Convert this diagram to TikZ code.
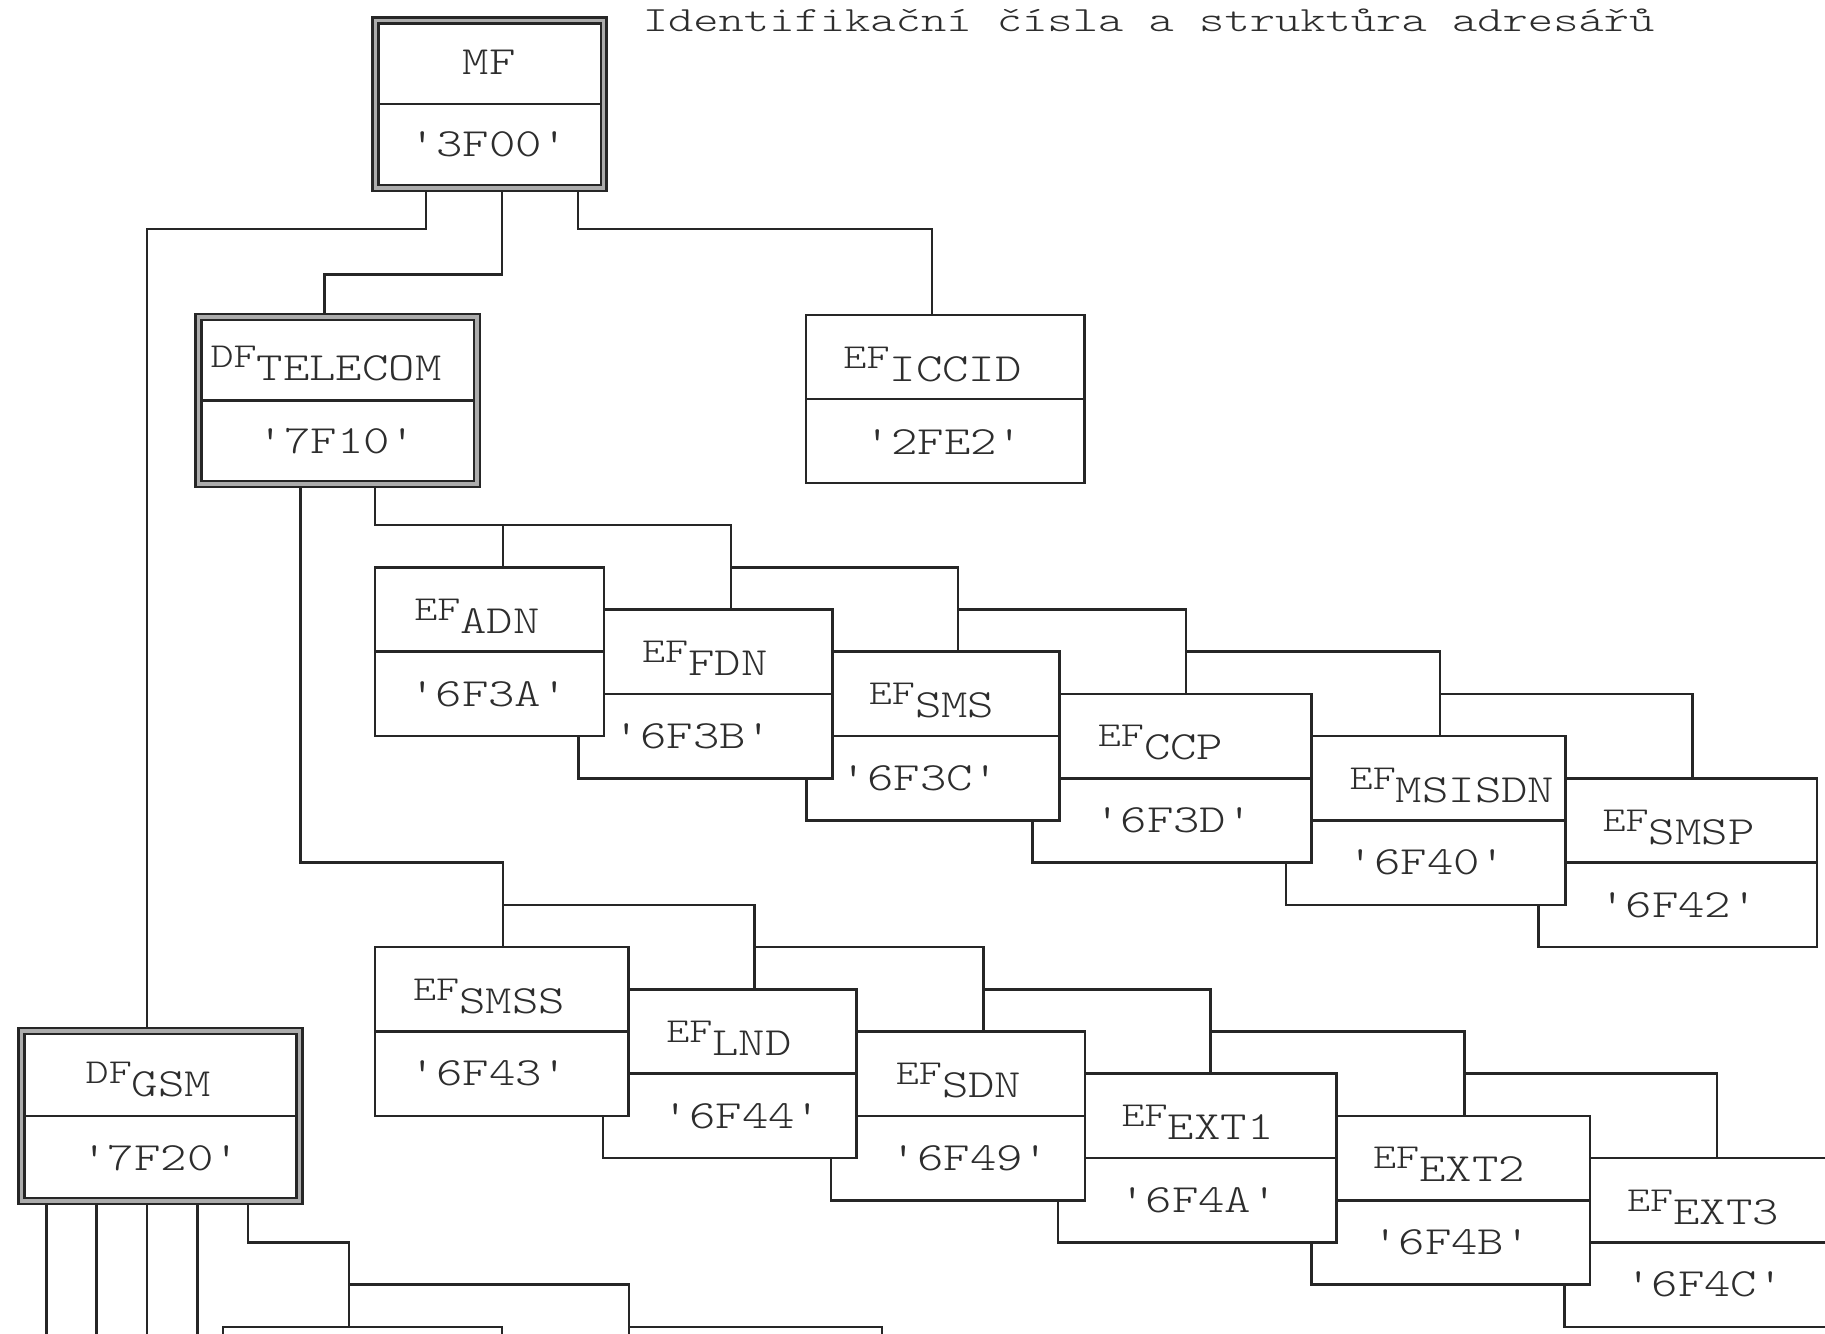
\documentclass[tikz,border=0pt]{standalone}
\usepackage{fontspec}
\newfontfamily\boxfont{lmmonolt10-regular.otf}[FakeStretch=1.257]
\newfontfamily\titlefont{lmmonolt10-regular.otf}[FakeStretch=1.357]
\definecolor{linec}{RGB}{38,38,38}
\definecolor{textc}{RGB}{45,45,45}
% file name with a lowered part after a smaller prefix
\newcommand\efl[2]{{\fontsize{35}{40}\selectfont #1}\raisebox{-13pt}{#2}}
% top edge of the i-th row of the staircase
\newcommand\Ty[1]{567.3+42.2*(#1)}
\tikzset{
  conn/.style={draw=linec, line width=2.6pt},
  efbox/.style={draw=linec, line width=2.6pt, fill=white, inner sep=0pt, outer sep=0pt,
    minimum height=168.8pt,
    path picture={\draw[linec, line width=2.6pt] (path picture bounding box.west) -- (path picture bounding box.east);}},
  dfbox/.style={draw=linec, line width=2.4pt, double=gray!65, double distance=3.4pt,
    fill=white, inner sep=0pt, outer sep=0pt},
  lbl/.style={inner sep=0pt, anchor=base, text=textc, font=\boxfont\fontsize{40}{44}\selectfont},
}
\newcommand\efnode[4]{\node[efbox, minimum width={#3-#2}] (#1) at ({(#2+#3)/2},{\Ty{#4}+84.4}) {};}
\newcommand\eftext[6]{%
  \node[lbl] (#1-n) at (#3,{\Ty{#2}+52.9}) {\efl{EF}{#4}};%
  \node[lbl] (#1-c) at (#5,{\Ty{#2}+138.8}) {#6};}

\begin{document}
\begin{tikzpicture}[x=1pt,y=-1pt]
\fill[white] (0,0) rectangle (1825,1333);
\useasboundingbox (0,0) rectangle (1825,1333);
\clip (0,0) rectangle (1825,1333);

% ---------- boxes (lower rows first, so earlier files lie on top) ----------
\node[dfbox, minimum width=228.2pt, minimum height=167.3pt] (mf) at (489.6,104.15) {};
\node[dfbox, minimum width=278.5pt, minimum height=167pt] (tel) at (337.75,400.5) {};
\node[dfbox, minimum width=278pt, minimum height=170pt] (gsm) at (160.5,1116) {};
\node[efbox, minimum width=278.5pt, minimum height=168pt] (iccid) at (945.25,399) {};

\efnode{smsp}{1538.7}{1816.8}{5}
\efnode{msisdn}{1286.1}{1565.4}{4}
\efnode{ccp}{1032.4}{1311.7}{3}
\efnode{sms}{806.6}{1059.2}{2}
\efnode{fdn}{578.5}{832.2}{1}
\efnode{adn}{374.8}{604.1}{0}

\efnode{ext3}{1564.3}{1842}{14}
\efnode{ext2}{1311.7}{1589.9}{13}
\efnode{ext1}{1058.0}{1336.2}{12}
\efnode{sdn}{831.0}{1084.8}{11}
\efnode{lnd}{602.9}{856.6}{10}
\efnode{smss}{374.8}{628.5}{9}

\efnode{boxa}{223}{502}{18}
\efnode{boxb}{629}{882}{18}

% ---------- connectors ----------
\draw[conn] (mf.south -| 426,0) |- (147,229) -- (gsm.north -| 147,0);
\draw[conn] (mf.south -| 502,0) |- (324.7,274.7) -- (tel.north -| 324.7,0);
\draw[conn] (mf.south -| 578,0) |- (932,229) -- (iccid.north -| 932,0);

% DF TELECOM, first branch
\draw[conn] (tel.south -| 374.8,0) -- (374.8,{\Ty{-1}}) -| (fdn.north -| 730.9,0);
\draw[conn] (502.8,{\Ty{-1}}) -- (adn.north -| 502.8,0);
\draw[conn] (730.9,{\Ty{0}}) -| (sms.north -| 957.9,0);
\draw[conn] (957.9,{\Ty{1}}) -| (ccp.north -| 1186,0);
\draw[conn] (1186,{\Ty{2}}) -| (msisdn.north -| 1439.8,0);
\draw[conn] (1439.8,{\Ty{3}}) -| (smsp.north -| 1692.3,0);

% DF TELECOM, second branch
\draw[conn] (tel.south -| 300.3,0) -- (300.3,{\Ty{7}}) -| (smss.north -| 502.8,0);
\draw[conn] (502.8,{\Ty{8}}) -| (lnd.north -| 754.2,0);
\draw[conn] (754.2,{\Ty{9}}) -| (sdn.north -| 983.5,0);
\draw[conn] (983.5,{\Ty{10}}) -| (ext1.north -| 1210.5,0);
\draw[conn] (1210.5,{\Ty{11}}) -| (ext2.north -| 1464.2,0);
\draw[conn] (1464.2,{\Ty{12}}) -| (ext3.north -| 1716.8,0);

% DF GSM
\foreach \xx in {46.4,96.6,147,197.5}
  \draw[conn] (gsm.south -| \xx,0) -- (\xx,1345);
\draw[conn] (gsm.south -| 247.9,0) -- (247.9,{\Ty{16}}) -| (boxa.north -| 349,0);
\draw[conn] (349,{\Ty{17}}) -| (boxb.north west);

% redraw the framed boxes over the connector ends
\node[dfbox, minimum width=228.2pt, minimum height=167.3pt] at (mf) {};
\node[dfbox, minimum width=278.5pt, minimum height=167pt] at (tel) {};
\node[dfbox, minimum width=278pt, minimum height=170pt] at (gsm) {};
\draw[conn] ([xshift=4pt]mf.west) -- ([xshift=-4pt]mf.east);
\draw[conn] ([xshift=4pt]tel.west) -- ([xshift=-4pt]tel.east);
\draw[conn] ([xshift=4pt]gsm.west) -- ([xshift=-4pt]gsm.east);

% ---------- texts ----------
\node[anchor=base west, inner sep=0pt, text=textc, font=\titlefont\fontsize{35.5}{40}\selectfont]
  (title) at (642.6,31.7) {Identifikační čísla a struktůra adresářů};

\node[lbl] (mf-n) at (489,74.2) {MF};
\node[lbl] (mf-c) at (489,156.7) {'3F00'};
\node[lbl] (tel-n) at (326,367.7) {\efl{DF}{TELECOM}};
\node[lbl] (tel-c) at (337,453.2) {'7F10'};
\node[lbl] (iccid-n) at (932.5,368.2) {\efl{EF}{ICCID}};
\node[lbl] (iccid-c) at (944,454.7) {'2FE2'};
\node[lbl] (gsm-n) at (148.4,1083.7) {\efl{DF}{GSM}};
\node[lbl] (gsm-c) at (160.7,1170.2) {'7F20'};

\eftext{adn}{0}{477}{ADN}{488.5}{'6F3A'}
\eftext{fdn}{1}{704.7}{FDN}{693}{'6F3B'}
\eftext{sms}{2}{931.5}{SMS}{920}{'6F3C'}
\eftext{ccp}{3}{1160.5}{CCP}{1173.5}{'6F3D'}
\eftext{msisdn}{4}{1452}{MSISDN}{1427}{'6F40'}
\eftext{smsp}{5}{1678.5}{SMSP}{1678.5}{'6F42'}

\eftext{smss}{9}{489}{SMSS}{489}{'6F43'}
\eftext{lnd}{10}{729}{LND}{742}{'6F44'}
\eftext{sdn}{11}{958.5}{SDN}{970}{'6F49'}
\eftext{ext1}{12}{1197.5}{EXT1}{1198.5}{'6F4A'}
\eftext{ext2}{13}{1449}{EXT2}{1451.5}{'6F4B'}
\eftext{ext3}{14}{1703}{EXT3}{1704.5}{'6F4C'}
\end{tikzpicture}
\end{document}
